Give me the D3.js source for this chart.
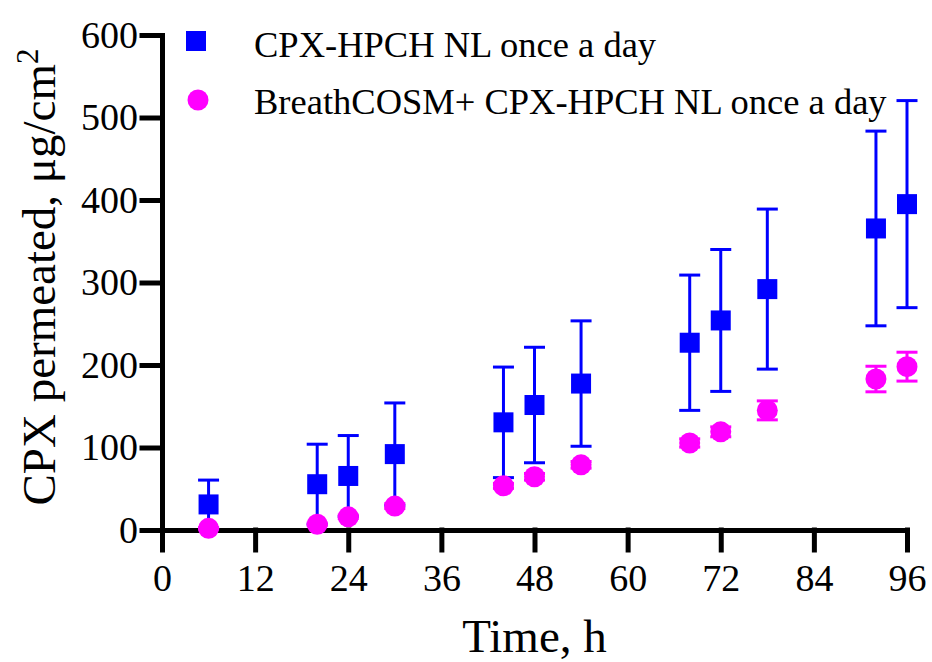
<!DOCTYPE html>
<html>
<head>
<meta charset="utf-8">
<script src="https://cdn.jsdelivr.net/npm/d3@7"></script>
<style>
  html, body { margin: 0; padding: 0; background: #fff; }
  svg { display: block; }
</style>
</head>
<body>
<div id="chart"></div>
<script>
// ---- data ----
const times      = [6, 20, 24, 30, 44, 48, 54, 68, 72, 78, 92, 96];
const hpchMean   = [31, 55.5, 65.5, 92, 130.5, 151.5, 177.5, 227, 254, 292, 365.5, 395];
const hpchSD     = [29.5, 48.5, 49, 62, 67, 70, 76, 82, 86, 97, 118, 125.5];
const breathMean = [2, 7, 16, 29, 53.5, 64.5, 79, 105.5, 119, 145, 183, 198];
const breathSD   = [1, 1.5, 2, 3, 3, 4, 4, 5, 6, 11.5, 15.5, 17.5];
const seriesNames = ["CPX-HPCH NL once a day", "BreathCOSM+ CPX-HPCH NL once a day"];
const xTicks = [0, 12, 24, 36, 48, 60, 72, 84, 96];
const yTicks = [0, 100, 200, 300, 400, 500, 600];

// ---- layout ----
const W = 932, H = 662;
const FONT = "Liberation Serif";
const svg = d3.select("#chart").append("svg").attr("width", W).attr("height", H)
  .style("font-family", FONT);

const x = d3.scaleLinear().domain([0, 96]).range([162, 907]);
const y = d3.scaleLinear().domain([0, 600]).range([530, 35]);

const BLUE = "#0000ff", MAGENTA = "#ff00ff";

// axes
const xAxis = svg.append("g").attr("transform", "translate(0,530)")
  .call(d3.axisBottom(x).tickValues(xTicks).tickSize(20).tickSizeOuter(0).tickPadding(14));
const yAxis = svg.append("g").attr("transform", "translate(162,0)")
  .call(d3.axisLeft(y).tickValues(yTicks).tickSize(20).tickSizeOuter(0).tickPadding(4));

[xAxis, yAxis].forEach(g => {
  g.attr("font-family", FONT).attr("font-size", 38);
  g.select(".domain").attr("stroke", "#000").attr("stroke-width", 5).attr("stroke-linecap", "square");
  g.selectAll(".tick line").attr("stroke", "#000").attr("stroke-width", 5).attr("stroke-linecap", "square");
  g.selectAll(".tick text").attr("font-family", FONT).style("font-family", FONT)
    .attr("font-size", 38).attr("fill", "#000");
});

// axis titles
svg.append("text")
  .attr("x", (x(0) + x(96)) / 2).attr("y", 652)
  .attr("text-anchor", "middle").attr("font-size", 47)
  .attr("font-family", FONT).style("font-family", FONT)
  .text("Time, h");

const yt = svg.append("text")
  .attr("transform", "translate(55,277) rotate(-90)")
  .attr("text-anchor", "middle").attr("font-size", 47)
  .attr("font-family", FONT).style("font-family", FONT);
yt.append("tspan").text("CPX permeated, μg/cm");
yt.append("tspan").attr("font-size", 31).attr("dy", -17).text("2");

// series
function drawSeries(means, sds, color, shape) {
  const g = svg.append("g");
  const data = times.map((t, i) => ({ t, m: means[i], sd: sds[i] }));
  const cap = 10.5;
  g.selectAll("line.v").data(data).enter().append("line")
    .attr("x1", d => x(d.t)).attr("x2", d => x(d.t))
    .attr("y1", d => y(d.m - d.sd)).attr("y2", d => y(d.m + d.sd))
    .attr("stroke", color).attr("stroke-width", 3);
  g.selectAll("line.top").data(data).enter().append("line")
    .attr("x1", d => x(d.t) - cap).attr("x2", d => x(d.t) + cap)
    .attr("y1", d => y(d.m + d.sd)).attr("y2", d => y(d.m + d.sd))
    .attr("stroke", color).attr("stroke-width", 3);
  g.selectAll("line.bot").data(data).enter().append("line")
    .attr("x1", d => x(d.t) - cap).attr("x2", d => x(d.t) + cap)
    .attr("y1", d => y(d.m - d.sd)).attr("y2", d => y(d.m - d.sd))
    .attr("stroke", color).attr("stroke-width", 3);
  if (shape === "square") {
    g.selectAll("rect").data(data).enter().append("rect")
      .attr("x", d => x(d.t) - 10).attr("y", d => y(d.m) - 10)
      .attr("width", 20).attr("height", 20).attr("fill", color);
  } else {
    g.selectAll("circle").data(data).enter().append("circle")
      .attr("cx", d => x(d.t)).attr("cy", d => y(d.m)).attr("r", 10.5)
      .attr("fill", color);
  }
}
drawSeries(hpchMean, hpchSD, BLUE, "square");
drawSeries(breathMean, breathSD, MAGENTA, "circle");

// legend
svg.append("rect").attr("x", 186).attr("y", 31).attr("width", 20).attr("height", 20).attr("fill", BLUE);
svg.append("circle").attr("cx", 198).attr("cy", 100).attr("r", 10.5).attr("fill", MAGENTA);
svg.append("text").attr("x", 254).attr("y", 57).attr("font-size", 36.5)
  .attr("font-family", FONT).style("font-family", FONT).text(seriesNames[0]);
svg.append("text").attr("x", 254).attr("y", 113.5).attr("font-size", 36.5)
  .attr("font-family", FONT).style("font-family", FONT).text(seriesNames[1]);
</script>
</body>
</html>
